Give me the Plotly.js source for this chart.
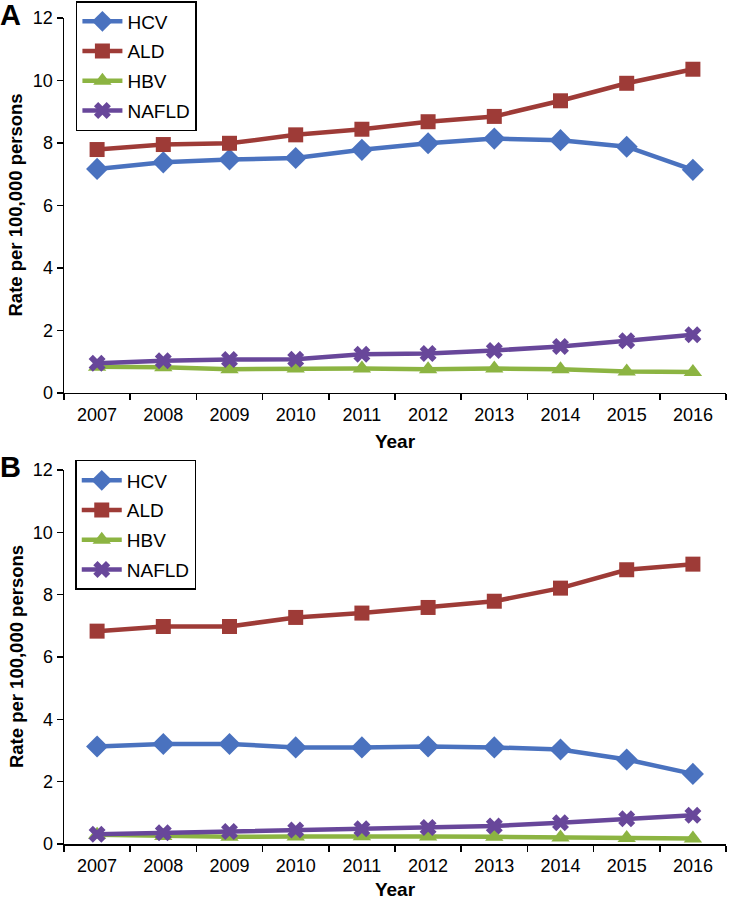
<!DOCTYPE html>
<html>
<head>
<meta charset="utf-8">
<script src="https://cdn.plot.ly/plotly-3.0.1.min.js"></script>
<style>html,body{margin:0;padding:0;background:#fff;}#chart{width:732px;height:900px;}</style>
</head>
<body>
<div id="chart"></div>
<script>
const years = ['2007','2008','2009','2010','2011','2012','2013','2014','2015','2016'];
const seriesNames = ['HCV','ALD','HBV','NAFLD'];

// Panel A
const hcvA   = [7.17, 7.38, 7.47, 7.52, 7.78, 7.99, 8.14, 8.09, 7.88, 7.14];
const aldA   = [7.79, 7.95, 7.99, 8.26, 8.44, 8.68, 8.85, 9.35, 9.91, 10.36];
const hbvA   = [0.84, 0.82, 0.76, 0.78, 0.78, 0.76, 0.78, 0.76, 0.69, 0.67];
const nafldA = [0.95, 1.03, 1.07, 1.08, 1.24, 1.26, 1.36, 1.49, 1.67, 1.86];

// Panel B
const hcvB   = [3.13, 3.21, 3.21, 3.10, 3.10, 3.13, 3.10, 3.03, 2.71, 2.25];
const aldB   = [6.83, 6.98, 6.98, 7.27, 7.41, 7.59, 7.79, 8.21, 8.80, 8.98];
const hbvB   = [0.30, 0.26, 0.23, 0.24, 0.25, 0.24, 0.23, 0.21, 0.19, 0.18];
const nafldB = [0.31, 0.36, 0.40, 0.45, 0.49, 0.53, 0.58, 0.68, 0.81, 0.92];

const colors = ['#4a72bf', '#9e3b37', '#8cb442', '#68479a'];
const symbols = ['diamond', 'square', 'triangle-up', 'x'];
const sizes = [17, 15, 16, 15];

const dataA = [hcvA, aldA, hbvA, nafldA];
const dataB = [hcvB, aldB, hbvB, nafldB];

const traces = [];
dataA.forEach((vals, i) => {
  traces.push({
    x: years, y: vals, name: seriesNames[i], type: 'scatter', mode: 'lines+markers',
    xaxis: 'x', yaxis: 'y', legend: 'legend', legendgroup: 'a' + i,
    line: {color: colors[i], width: 4.5},
    marker: {color: colors[i], symbol: symbols[i], size: sizes[i], line: {width: 0}}
  });
});
dataB.forEach((vals, i) => {
  traces.push({
    x: years, y: vals, name: seriesNames[i], type: 'scatter', mode: 'lines+markers',
    xaxis: 'x2', yaxis: 'y2', legend: 'legend2', legendgroup: 'b' + i,
    line: {color: colors[i], width: 4.5},
    marker: {color: colors[i], symbol: symbols[i], size: sizes[i], line: {width: 0}}
  });
});

const font = {family: 'Liberation Sans, Arial, sans-serif', color: '#000'};
const xCommon = {
  type: 'category', range: [-0.5, 9.5], showgrid: false, zeroline: false,
  showline: true, linecolor: '#000', linewidth: 1.5, ticks: 'outside', tickson: 'boundaries',
  ticklen: 6, tickcolor: '#000', tickwidth: 1.5, ticklabelstandoff: 5,
  tickfont: {family: font.family, size: 18, color: '#000'},
  title: {text: '<b>Year</b>', font: {family: font.family, size: 19, color: '#000'}, standoff: 10}
};
const yCommon = {
  range: [0, 12], dtick: 2, tick0: 0, showgrid: false, zeroline: false,
  showline: true, linecolor: '#000', linewidth: 1.5, ticks: 'outside', ticklen: 6,
  tickcolor: '#000', tickwidth: 1.5,
  tickfont: {family: font.family, size: 18, color: '#000'}
};
const legCommon = {
  bordercolor: '#000', borderwidth: 1.5, bgcolor: '#fff',
  font: {family: font.family, size: 19, color: '#000'},
  traceorder: 'grouped', tracegroupgap: 2, itemwidth: 40,
  xanchor: 'left', yanchor: 'top'
};

const layout = {
  width: 732, height: 900,
  margin: {l: 64, r: 6, t: 0, b: 56, autoexpand: false},
  paper_bgcolor: '#fff', plot_bgcolor: '#fff',
  font: font,
  showlegend: true,
  xaxis: Object.assign({}, xCommon, {anchor: 'y', domain: [0, 1]}),
  yaxis: Object.assign({}, yCommon, {anchor: 'x', domain: [0.5344, 0.9787]}),
  xaxis2: Object.assign({}, xCommon, {anchor: 'y2', domain: [0, 1]}),
  yaxis2: Object.assign({}, yCommon, {anchor: 'x2', domain: [0, 0.4431]}),
  legend: Object.assign({}, legCommon, {x: 0.018, y: 0.9988}),
  legend2: Object.assign({}, legCommon, {x: 0.017, y: 0.455}),
  annotations: [
    {text: '<b>A</b>', xref: 'paper', yref: 'paper', x: -0.08, y: 0.9787, xanchor: 'center', yanchor: 'middle',
     showarrow: false, font: {family: font.family, size: 29, color: '#000'}, xshift: -1, yshift: 3},
    {text: '<b>B</b>', xref: 'paper', yref: 'paper', x: -0.08, y: 0.4431, xanchor: 'center', yanchor: 'middle',
     showarrow: false, font: {family: font.family, size: 29, color: '#000'}, xshift: -1, yshift: 3},
    {text: '<b>Rate per 100,000 persons</b>', xref: 'paper', yref: 'paper', x: -0.0725, y: 0.7565,
     xanchor: 'center', yanchor: 'middle', textangle: -90, showarrow: false,
     font: {family: font.family, size: 18.5, color: '#000'}},
    {text: '<b>Rate per 100,000 persons</b>', xref: 'paper', yref: 'paper', x: -0.0725, y: 0.2215,
     xanchor: 'center', yanchor: 'middle', textangle: -90, showarrow: false,
     font: {family: font.family, size: 18.5, color: '#000'}}
  ]
};

Plotly.newPlot('chart', traces, layout, {staticPlot: true, displayModeBar: false});
</script>
</body>
</html>
